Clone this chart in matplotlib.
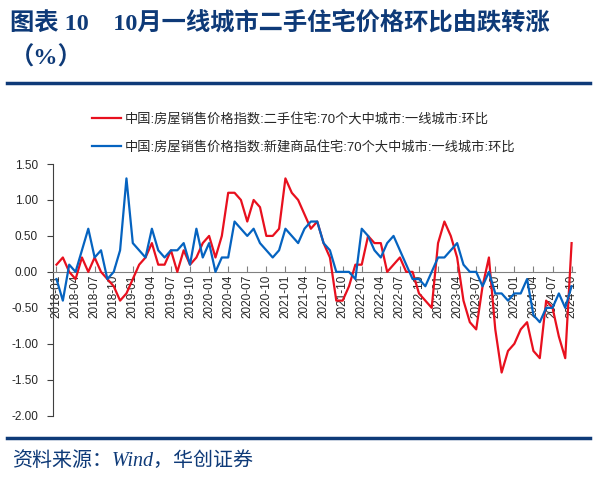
import pandas as pd
import matplotlib.pyplot as plt
from matplotlib.lines import Line2D

plt.rcParams['font.family'] = ['Liberation Sans', 'Noto Sans CJK SC']

# months 2018-01 .. 2024-10
months = list(pd.date_range('2018-01', periods=82, freq='MS').strftime('%Y-%m'))

# 二手住宅 环比 (%)
second_hand = [
    0.1, 0.2, 0.0, -0.1, 0.2, 0.0, 0.2, 0.0, -0.1, -0.2, -0.4, -0.3,
    -0.1, 0.1, 0.2, 0.4, 0.1, 0.1, 0.3, 0.0, 0.3, 0.1, 0.2, 0.4,
    0.5, 0.2, 0.5, 1.1, 1.1, 1.0, 0.7, 1.0, 0.9, 0.5, 0.5, 0.6,
    1.3, 1.1, 1.0, 0.8, 0.6, 0.7, 0.4, 0.2, -0.4, -0.4, -0.2, 0.1,
    0.1, 0.5, 0.4, 0.4, 0.0, 0.1, 0.2, 0.0, 0.0, -0.3, -0.4, -0.5,
    0.4, 0.7, 0.5, 0.2, -0.4, -0.7, -0.8, -0.2, 0.2, -0.8, -1.4, -1.1,
    -1.0, -0.8, -0.7, -1.1, -1.2, -0.4, -0.5, -0.9, -1.2, 0.4,
]

# 新建商品住宅 环比 (%)
new_home = [
    -0.1, -0.4, 0.1, 0.0, 0.3, 0.6, 0.2, 0.3, -0.1, 0.0, 0.3, 1.3,
    0.4, 0.3, 0.2, 0.6, 0.3, 0.2, 0.3, 0.3, 0.4, 0.1, 0.6, 0.2,
    0.4, 0.0, 0.2, 0.2, 0.7, 0.6, 0.5, 0.6, 0.4, 0.3, 0.2, 0.3,
    0.6, 0.5, 0.4, 0.6, 0.7, 0.7, 0.4, 0.3, 0.0, 0.0, 0.0, -0.1,
    0.6, 0.5, 0.3, 0.2, 0.4, 0.5, 0.3, 0.1, -0.1, -0.1, -0.2, 0.0,
    0.2, 0.2, 0.3, 0.4, 0.1, 0.0, 0.0, -0.2, 0.0, -0.3, -0.3, -0.4,
    -0.3, -0.3, -0.1, -0.6, -0.7, -0.5, -0.5, -0.3, -0.5, -0.2,
]

label_red = '中国:房屋销售价格指数:二手住宅:70个大中城市:一线城市:环比'
label_blue = '中国:房屋销售价格指数:新建商品住宅:70个大中城市:一线城市:环比'

navy = '#0E3A78'

fig = plt.figure(figsize=(5.95, 4.79), dpi=100)
ax = fig.add_axes([0.0896, 0.1322, 0.8764, 0.5254])

x = range(len(months))
ax.plot(x, second_hand, color='#E8101E', lw=1.6, label=label_red, zorder=3)
ax.plot(x, new_home, color='#0563C0', lw=1.6, label=label_blue, zorder=3)

# x axis sits on the zero line (set before the ticks, it resets them)
ax.spines['top'].set_visible(False)
ax.spines['right'].set_visible(False)
ax.spines['bottom'].set_position(('data', 0))
ax.spines['bottom'].set_color('#808080')
ax.spines['left'].set_color('#404040')

ax.set_xlim(-0.5, 81.5)
ax.set_ylim(-2.0, 1.5)
yt = [1.5, 1.0, 0.5, 0.0, -0.5, -1.0, -1.5, -2.0]
ax.set_yticks(yt)
ax.set_yticklabels([f'{v:.2f}' for v in yt])
ax.set_xticks(list(range(0, 82, 3)))
ax.set_xticklabels(months[::3])

ax.tick_params(axis='y', labelsize=8.5, length=4, color='#404040', labelcolor='#262626', pad=7)
ax.tick_params(axis='x', labelsize=8.5, length=4, direction='in', color='#808080',
               labelcolor='#262626', pad=2, labelrotation=90)

leg = fig.legend(loc='upper left', bbox_to_anchor=(92 / 595, 1 - 113 / 479), frameon=False,
                 fontsize=9.5, handlelength=2.2, handletextpad=0.3, labelspacing=1.15,
                 borderpad=0, borderaxespad=0)
for t in leg.get_texts():
    t.set_color('#262626')

# title and separators
title_font = ['Liberation Serif', 'Noto Sans CJK SC']
fig.text(10 / 595, 1 - 23 / 479, '图表 10    10月一线城市二手住宅价格环比由跌转涨',
         family=title_font, fontsize=17.5, fontweight='bold', color=navy, va='center')
fig.text(10 / 595, 1 - 58 / 479, '（%）', family=title_font, fontsize=17.5,
         fontweight='bold', color=navy, va='center')
fig.add_artist(Line2D([7 / 595, 590 / 595], [1 - 83 / 479] * 2, color=navy, lw=2.5))
fig.add_artist(Line2D([7 / 595, 590 / 595], [1 - 438 / 479] * 2, color=navy, lw=2.5))
fig.text(12 / 595, 1 - 462 / 479, '资料来源：Wind，华创证券', family=title_font,
         fontsize=14.4, style='italic', color=navy, va='center')

fig.savefig('out.png', dpi=100)
